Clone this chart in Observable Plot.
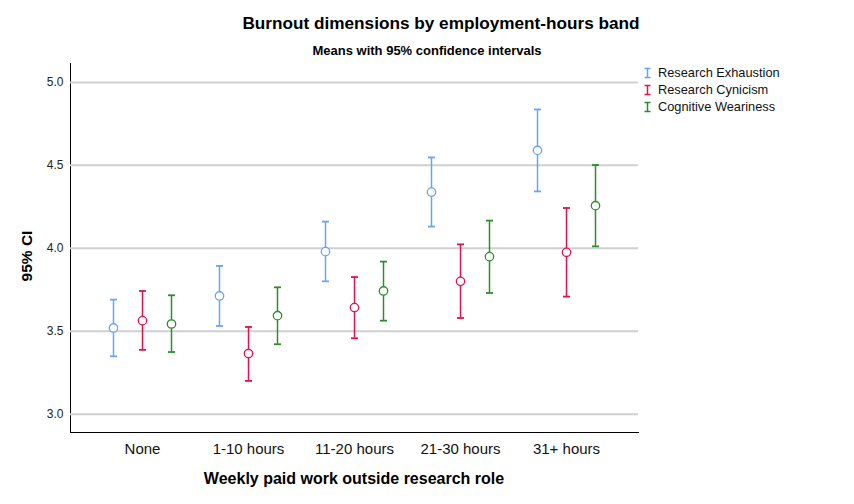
<!DOCTYPE html>
<html>
<head>
<meta charset="utf-8">
<script src="https://cdn.jsdelivr.net/npm/d3@7"></script>
<script src="https://cdn.jsdelivr.net/npm/@observablehq/plot@0.6"></script>
<style>
  body { margin: 0; background: #fff; font-family: "Liberation Sans", Arial, sans-serif; }
  #wrap { position: relative; width: 854px; height: 504px; }
  .t { position: absolute; white-space: nowrap; color: #000; }
  .legend { position: absolute; left: 643px; top: 64px; font-size: 12.8px; color: #111; }
  .legend div { height: 17px; line-height: 17px; display: flex; align-items: center; }
  .legend svg { margin-right: 6px; }
</style>
</head>
<body>
<div id="wrap"></div>
<script>
const categories = ["None", "1-10 hours", "11-20 hours", "21-30 hours", "31+ hours"];
const seriesNames = ["Research Exhaustion", "Research Cynicism", "Cognitive Weariness"];
const seriesColors = ["#6aa4ee", "#e0144c", "#2e8b2e"];

const exhaustionMean = [3.520, 3.713, 3.980, 4.339, 4.590];
const exhaustionLow  = [3.349, 3.532, 3.801, 4.131, 4.343];
const exhaustionHigh = [3.691, 3.894, 4.161, 4.548, 4.837];

const cynicismMean = [3.564, 3.366, 3.643, 3.801, 3.976];
const cynicismLow  = [3.388, 3.201, 3.458, 3.580, 3.709];
const cynicismHigh = [3.743, 3.526, 3.827, 4.024, 4.243];

const wearinessMean = [3.544, 3.594, 3.743, 3.950, 4.257];
const wearinessLow  = [3.375, 3.422, 3.564, 3.731, 4.012];
const wearinessHigh = [3.717, 3.765, 3.920, 4.167, 4.502];

const yTicks = [3.0, 3.5, 4.0, 4.5, 5.0];

const seriesData = [
  [exhaustionMean, exhaustionLow, exhaustionHigh],
  [cynicismMean, cynicismLow, cynicismHigh],
  [wearinessMean, wearinessLow, wearinessHigh]
];
const offsets = [-29, 0, 29];

const cap = { draw(ctx) { ctx.moveTo(-3.5, 0); ctx.lineTo(3.5, 0); } };

const marks = [Plot.ruleY(yTicks, { stroke: "#d0d0d0", strokeWidth: 2 })];
seriesData.forEach(([m, lo, hi], s) => {
  const rows = categories.map((c, i) => ({ cat: c, mean: m[i], lo: lo[i], hi: hi[i] }));
  const col = seriesColors[s];
  const dx = offsets[s];
  marks.push(
    Plot.ruleX(rows, { x: "cat", y1: "lo", y2: "hi", stroke: col, strokeWidth: 1.5, dx }),
    Plot.dot(rows, { x: "cat", y: "lo", symbol: cap, stroke: col, strokeWidth: 1.8, dx }),
    Plot.dot(rows, { x: "cat", y: "hi", symbol: cap, stroke: col, strokeWidth: 1.8, dx }),
    Plot.dot(rows, { x: "cat", y: "mean", r: 4.2, stroke: col, fill: "white", strokeWidth: 1.3, dx })
  );
});

const chart = Plot.plot({
  width: 854,
  height: 504,
  marginLeft: 70,
  marginRight: 216,
  marginTop: 63,
  marginBottom: 72,
  style: { fontFamily: "'Liberation Sans', Arial, sans-serif", background: "white" },
  x: { type: "point", domain: categories, padding: 0.667, label: null, tickSize: 0, tickPadding: 11, line: true },
  y: { domain: [2.89, 5.114], ticks: yTicks, tickFormat: d3.format(".1f"), label: null, tickSize: 0, tickPadding: 7, line: true },
  marks
});
chart.style.position = "absolute";
chart.style.left = "0";
chart.style.top = "0";
chart.querySelectorAll('[aria-label="x-axis tick label"] text, [aria-label="x-axis"] text').forEach(t => { t.style.fontSize = "15px"; t.style.fill = "#111"; });
chart.querySelectorAll('[aria-label="y-axis tick label"] text, [aria-label="y-axis"] text').forEach(t => { t.style.fontSize = "12px"; t.style.fill = "#222"; });
chart.querySelectorAll('[aria-label="x-axis"] path, [aria-label="y-axis"] path, [aria-label^="x-axis"] line, [aria-label^="y-axis"] line').forEach(p => p.setAttribute("stroke", "#444"));

const wrap = document.getElementById("wrap");
wrap.appendChild(chart);

function addText(txt, css) {
  const d = document.createElement("div");
  d.className = "t";
  d.textContent = txt;
  Object.assign(d.style, css);
  wrap.appendChild(d);
  return d;
}
addText("Burnout dimensions by employment-hours band", { left: "441px", top: "13px", transform: "translateX(-50%)", fontSize: "17.2px", fontWeight: "bold" });
addText("Means with 95% confidence intervals", { left: "427px", top: "43px", transform: "translateX(-50%)", fontSize: "13px", fontWeight: "bold" });
addText("Weekly paid work outside research role", { left: "354px", top: "470px", transform: "translateX(-50%)", fontSize: "16px", fontWeight: "bold" });
addText("95% CI", { left: "27px", top: "256px", transform: "translate(-50%,-50%) rotate(-90deg)", fontSize: "15.5px", fontWeight: "bold" });

const leg = document.createElement("div");
leg.className = "legend";
seriesNames.forEach((n, i) => {
  const row = document.createElement("div");
  row.innerHTML = `<svg width="9" height="12"><path d="M1.5,1.5H7.5M4.5,1.5V10.5M1.5,10.5H7.5" stroke="${seriesColors[i]}" stroke-width="1.5" fill="none"/></svg><span>${n}</span>`;
  leg.appendChild(row);
});
wrap.appendChild(leg);
</script>
</body>
</html>
